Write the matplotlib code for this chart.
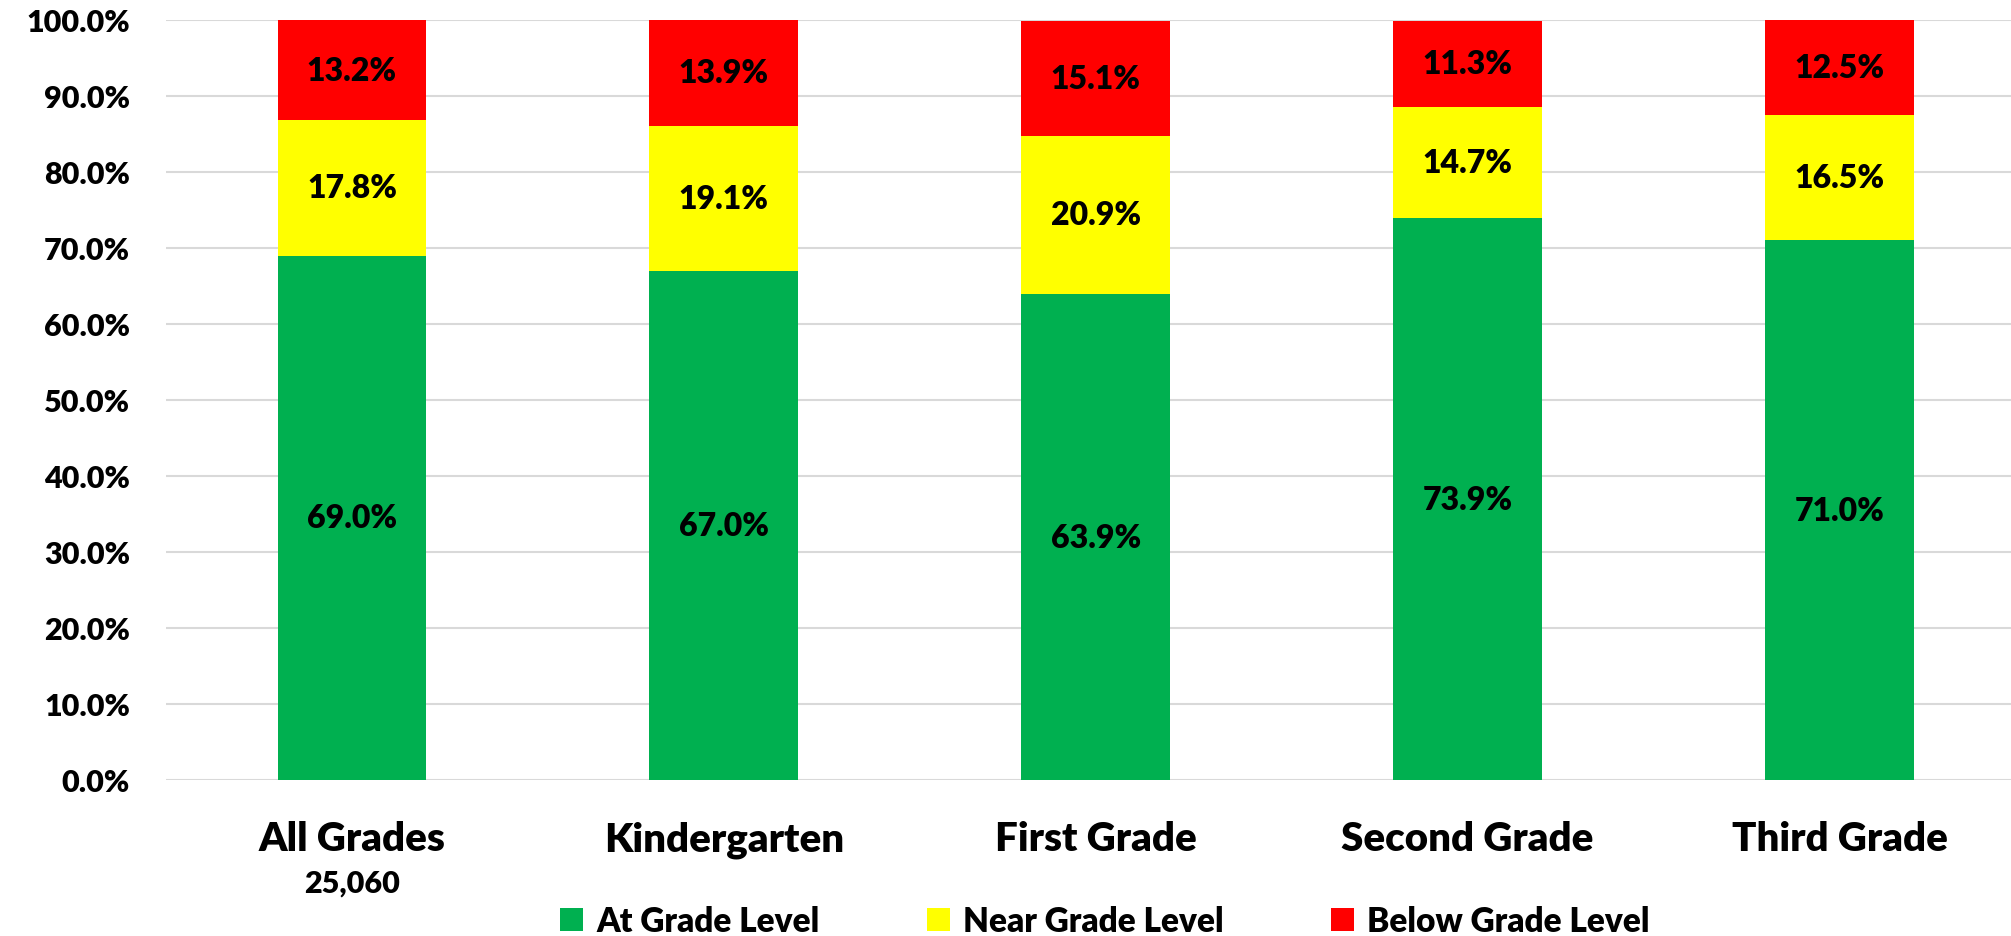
import numpy as np
import matplotlib
matplotlib.use("Agg")
import matplotlib.pyplot as plt
from matplotlib.patches import Patch
import matplotlib.transforms as mtransforms

# Data
categories = ["All Grades", "Kindergarten", "First Grade", "Second Grade", "Third Grade"]
at_level = [69.0, 67.0, 63.9, 73.9, 71.0]
near_level = [17.8, 19.1, 20.9, 14.7, 16.5]
below_level = [13.2, 13.9, 15.1, 11.3, 12.5]
series_names = ["At Grade Level", "Near Grade Level", "Below Grade Level"]
all_grades_n = "25,060"

colors = ["#00B050", "#FFFF00", "#FF0000"]
W = 'heavy'

plt.rcParams['font.family'] = ['Lato', 'DejaVu Sans']
plt.rcParams['font.weight'] = W

fig = plt.figure(figsize=(20.11, 9.37), dpi=100)
ax = fig.add_axes([166 / 2011, 1 - 781 / 937, 1 - 166 / 2011, (781 - 21) / 937])

x = np.arange(len(categories))
width = 0.4
bottom = np.zeros(len(categories))
for vals, col, name in zip([at_level, near_level, below_level], colors, series_names):
    vals = np.array(vals)
    ax.bar(x, vals, width, bottom=bottom, color=col, label=name, zorder=3)
    for xi, b, v in zip(x, bottom, vals):
        ax.text(xi, b + v / 2, "%.1f%%" % v, ha='center', va='center',
                fontsize=23, fontweight=W, color='black', zorder=4)
    bottom += vals

ax.set_ylim(0, 100)
ax.set_xlim(-0.5, (2011 - 351.5) / 372)
ax.set_yticks(np.arange(0, 101, 10))
ax.set_yticklabels(["%.1f%%" % t for t in np.arange(0, 101, 10)], fontsize=22, fontweight=W)
ax.set_xticks(x)
ax.set_xticklabels(categories, fontsize=29, fontweight=W)
ax.tick_params(axis='y', length=0, pad=26)
ax.tick_params(axis='x', length=0, pad=29)
ax.grid(axis='y', color='#D9D9D9', linewidth=1.5, zorder=0)
for s in ax.spines.values():
    s.set_visible(False)

# sample size under first category
trans = mtransforms.blended_transform_factory(ax.transData, ax.transAxes)
ax.text(x[0], -0.1355, all_grades_n, transform=trans, ha='center', va='center',
        fontsize=22, fontweight=W)

handles = [Patch(facecolor=c, label=n) for c, n in zip(colors, series_names)]
fig.legend(handles=handles, loc='center', bbox_to_anchor=(1105 / 2011, 1 - 922 / 937),
           ncol=3, frameon=False, handlelength=0.7, handleheight=0.7,
           handletextpad=0.4, columnspacing=3.2, prop={'weight': W, 'size': 24})

fig.savefig("out.png", dpi=100)
